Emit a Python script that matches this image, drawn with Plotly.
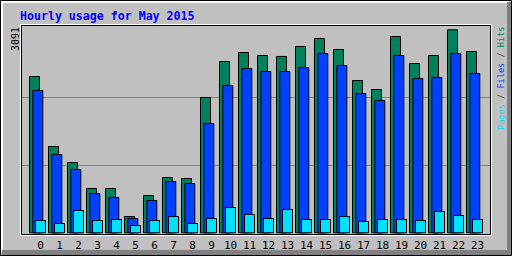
import plotly.graph_objects as go

hours = list(range(24))
hour_labels = [str(h) for h in hours]
hits = [2380, 1314, 1070, 675, 675, 248, 568, 842, 827, 2060, 2608, 2745,
        2700, 2685, 2837, 2959, 2791, 2319, 2182, 2989, 2578, 2700, 3091, 2761]
files = [2167, 1192, 964, 598, 538, 218, 492, 781, 751, 1664, 2243, 2502,
         2456, 2456, 2517, 2730, 2547, 2121, 2015, 2700, 2350, 2365, 2730, 2426]
pages = [187, 142, 340, 187, 203, 111, 187, 248, 142, 218, 385, 279,
         218, 355, 203, 203, 248, 172, 203, 203, 187, 324, 263, 203]
max_label = "3091"
title_text = "Hourly usage for May 2015"

W, H = 512, 256
L, R, T, B = 21, 21, 25, 21
PW, PH = W - L - R, H - T - B

def px(x):
    return (x - L) / PW

def py(y):
    return (H - B - y) / PH

HIT_C, FILE_C, PAGE_C = "#00805C", "#0040FF", "#00E0FF"
GREY, DK = "#C0C0C0", "#808080"

fig = go.Figure()
slot = 19.0
for vals, col, left in [(hits, HIT_C, 29.5), (files, FILE_C, 32.8), (pages, PAGE_C, 35.5)]:
    fig.add_trace(go.Bar(
        x=hours, y=vals, marker=dict(color=col, line=dict(color="black", width=1)),
        offset=(left - 40.5) / slot, width=10 / slot, showlegend=False,
    ))

maxv = max(hits)
k = maxv / 203.0
y0 = 232.8
yrange = [-(H - B - y0) * k, (y0 - T) * k]
xrange = [(L - 40.5) / slot, (W - R - 40.5) / slot]

shapes = []
def rect(x0, y0_, x1, y1, fill=None, line=None, lw=1):
    d = dict(type="rect", xref="paper", yref="paper", x0=px(x0), x1=px(x1),
             y0=py(y1), y1=py(y0_), layer="above")
    if fill:
        d["fillcolor"] = fill
        d["line"] = dict(width=0)
    else:
        d["line"] = dict(color=line, width=lw)
    shapes.append(d)

# 3D frame
rect(1, 1, 509, 3, fill="white")
rect(1, 1, 3, 253, fill="white")
rect(507, 2, 511, 255, fill=DK)
rect(2, 250, 511, 255, fill=DK)
rect(0.5, 0.5, 511.5, 255.5, line="black")
# plot frame
rect(20.5, 24.5, 491.5, 235.5, line="white")
rect(21.5, 25.5, 490.5, 234.5, line="black")

annotations = [
    dict(text=max_label, textangle=-90, xref="paper", yref="paper",
         x=px(15), y=py(39), xanchor="center", yanchor="middle", showarrow=False,
         font=dict(family="DejaVu Sans Mono", size=10, color="black")),
    dict(text=(f'<span style="color:{PAGE_C}">Pages</span>'
               f'<span style="color:#404040"> / </span>'
               f'<span style="color:{FILE_C}">Files</span>'
               f'<span style="color:#404040"> / </span>'
               f'<span style="color:{HIT_C}">Hits</span>'),
         textangle=-90, xref="paper", yref="paper", x=px(501), y=py(78),
         xanchor="center", yanchor="middle", showarrow=False,
         font=dict(family="DejaVu Sans Mono", size=8.6, color="black")),
]

fig.update_layout(
    template="none",
    width=W, height=H, margin=dict(l=L, r=R, t=T, b=B, pad=0, autoexpand=False),
    paper_bgcolor=GREY, plot_bgcolor=GREY, barmode="overlay",
    title=dict(text=title_text, xref="container", x=20 / W, xanchor="left",
               yref="container", y=1 - 15.5 / H, yanchor="middle",
               font=dict(family="DejaVu Sans Mono", size=11.6, color="#0000FF", weight="bold")),
    xaxis=dict(range=xrange, tickvals=hours, ticktext=hour_labels, showgrid=False,
               zeroline=False, showline=False, ticks="", ticklabelstandoff=2,
               automargin=False,
               tickfont=dict(family="DejaVu Sans Mono", size=11, color="black"),
               fixedrange=True),
    yaxis=dict(range=yrange, tickvals=[maxv / 3, 2 * maxv / 3], showticklabels=False,
               showgrid=True, gridcolor=DK, gridwidth=1, zeroline=False, showline=False,
               ticks="", automargin=False, fixedrange=True),
    shapes=shapes, annotations=annotations,
)

fig.write_html("out.html", config={"displayModeBar": False})
